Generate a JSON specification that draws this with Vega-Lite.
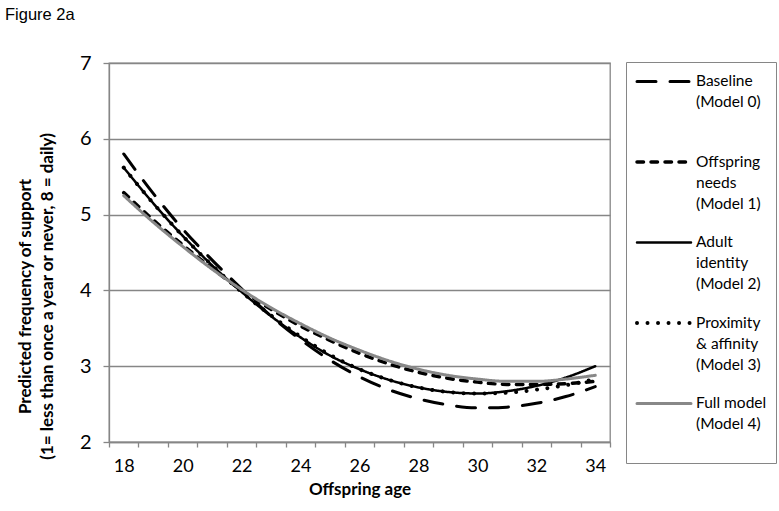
{
  "$schema": "https://vega.github.io/schema/vega-lite/v6.json",
  "width": 501,
  "height": 379,
  "autosize": {"type": "none"},
  "padding": {"left": 109, "top": 63, "right": 169, "bottom": 69},
  "title": {"text": "Figure 2a", "anchor": "start", "frame": "group", "font": "Liberation Sans", "fontSize": 16.5, "fontWeight": "normal", "color": "#000000", "dx": -104, "offset": 30},
  "data": {"values": [
    {"model": "M0", "age": 18, "v": 5.80}, {"model": "M0", "age": 19, "v": 5.28}, {"model": "M0", "age": 20, "v": 4.81}, {"model": "M0", "age": 21, "v": 4.40}, {"model": "M0", "age": 22, "v": 4.02}, {"model": "M0", "age": 23, "v": 3.66}, {"model": "M0", "age": 24, "v": 3.35}, {"model": "M0", "age": 25, "v": 3.08}, {"model": "M0", "age": 26, "v": 2.86}, {"model": "M0", "age": 27, "v": 2.69}, {"model": "M0", "age": 28, "v": 2.57}, {"model": "M0", "age": 29, "v": 2.49}, {"model": "M0", "age": 30, "v": 2.45}, {"model": "M0", "age": 31, "v": 2.46}, {"model": "M0", "age": 32, "v": 2.51}, {"model": "M0", "age": 33, "v": 2.60}, {"model": "M0", "age": 34, "v": 2.73},
    {"model": "M1", "age": 18, "v": 5.29}, {"model": "M1", "age": 19, "v": 4.93}, {"model": "M1", "age": 20, "v": 4.60}, {"model": "M1", "age": 21, "v": 4.29}, {"model": "M1", "age": 22, "v": 4.00}, {"model": "M1", "age": 23, "v": 3.75}, {"model": "M1", "age": 24, "v": 3.53}, {"model": "M1", "age": 25, "v": 3.34}, {"model": "M1", "age": 26, "v": 3.17}, {"model": "M1", "age": 27, "v": 3.03}, {"model": "M1", "age": 28, "v": 2.92}, {"model": "M1", "age": 29, "v": 2.84}, {"model": "M1", "age": 30, "v": 2.79}, {"model": "M1", "age": 31, "v": 2.76}, {"model": "M1", "age": 32, "v": 2.76}, {"model": "M1", "age": 33, "v": 2.77}, {"model": "M1", "age": 34, "v": 2.80},
    {"model": "M2", "age": 18, "v": 5.62}, {"model": "M2", "age": 19, "v": 5.15}, {"model": "M2", "age": 20, "v": 4.72}, {"model": "M2", "age": 21, "v": 4.33}, {"model": "M2", "age": 22, "v": 3.98}, {"model": "M2", "age": 23, "v": 3.66}, {"model": "M2", "age": 24, "v": 3.38}, {"model": "M2", "age": 25, "v": 3.14}, {"model": "M2", "age": 26, "v": 2.96}, {"model": "M2", "age": 27, "v": 2.82}, {"model": "M2", "age": 28, "v": 2.72}, {"model": "M2", "age": 29, "v": 2.66}, {"model": "M2", "age": 30, "v": 2.64}, {"model": "M2", "age": 31, "v": 2.67}, {"model": "M2", "age": 32, "v": 2.74}, {"model": "M2", "age": 33, "v": 2.85}, {"model": "M2", "age": 34, "v": 3.00},
    {"model": "M3", "age": 18, "v": 5.62}, {"model": "M3", "age": 19, "v": 5.15}, {"model": "M3", "age": 20, "v": 4.72}, {"model": "M3", "age": 21, "v": 4.33}, {"model": "M3", "age": 22, "v": 3.98}, {"model": "M3", "age": 23, "v": 3.67}, {"model": "M3", "age": 24, "v": 3.39}, {"model": "M3", "age": 25, "v": 3.15}, {"model": "M3", "age": 26, "v": 2.96}, {"model": "M3", "age": 27, "v": 2.82}, {"model": "M3", "age": 28, "v": 2.72}, {"model": "M3", "age": 29, "v": 2.66}, {"model": "M3", "age": 30, "v": 2.64}, {"model": "M3", "age": 31, "v": 2.65}, {"model": "M3", "age": 32, "v": 2.69}, {"model": "M3", "age": 33, "v": 2.75}, {"model": "M3", "age": 34, "v": 2.83},
    {"model": "M4", "age": 18, "v": 5.25}, {"model": "M4", "age": 19, "v": 4.90}, {"model": "M4", "age": 20, "v": 4.58}, {"model": "M4", "age": 21, "v": 4.28}, {"model": "M4", "age": 22, "v": 4.01}, {"model": "M4", "age": 23, "v": 3.77}, {"model": "M4", "age": 24, "v": 3.56}, {"model": "M4", "age": 25, "v": 3.37}, {"model": "M4", "age": 26, "v": 3.21}, {"model": "M4", "age": 27, "v": 3.07}, {"model": "M4", "age": 28, "v": 2.96}, {"model": "M4", "age": 29, "v": 2.88}, {"model": "M4", "age": 30, "v": 2.83}, {"model": "M4", "age": 31, "v": 2.80}, {"model": "M4", "age": 32, "v": 2.80}, {"model": "M4", "age": 33, "v": 2.83}, {"model": "M4", "age": 34, "v": 2.88}
  ]},
  "mark": {"type": "line", "interpolate": "monotone", "strokeCap": "round"},
  "encoding": {
    "x": {
      "field": "age", "type": "ordinal", "bandPosition": 0.5,
      "scale": {"type": "band", "paddingInner": 0, "paddingOuter": 0},
      "axis": {
        "title": "Offspring age", "titleFont": "Lato", "titleFontSize": 17, "titleFontWeight": "bold", "titleColor": "#000000", "titlePadding": 6,
        "labelExpr": "datum.value % 2 == 0 ? datum.label : ''", "labelOverlap": false, "labelAngle": 0,
        "labelFont": "Lato", "labelFontSize": 18, "labelColor": "#000000", "labelPadding": 10,
        "tickBand": "extent", "tickSize": 5, "tickColor": "#868686", "tickWidth": 1.3,
        "domainColor": "#868686", "domainWidth": 1.3, "grid": false
      }
    },
    "y": {
      "field": "v", "type": "quantitative",
      "scale": {"domain": [2, 7], "nice": false, "zero": false},
      "axis": {
        "title": ["Predicted frequency of support", "(1= less than once a year or never, 8 = daily)"],
        "titleFont": "Lato", "titleFontSize": 17, "titleFontWeight": "bold", "titleColor": "#000000", "titleLineHeight": 22.5,
        "titleX": -84, "titleY": 233, "titleBaseline": "middle", "titleAlign": "center", "titleAngle": -90,
        "values": [2, 3, 4, 5, 6, 7], "format": "d",
        "labelFont": "Lato", "labelFontSize": 20, "labelColor": "#000000", "labelPadding": 12,
        "tickSize": 6, "tickColor": "#868686", "tickWidth": 1.3,
        "grid": true, "gridColor": "#868686", "gridWidth": 1.3,
        "domainColor": "#868686", "domainWidth": 1.3
      }
    },
    "color": {
      "field": "model", "type": "nominal",
      "scale": {"domain": ["M0", "M1", "M2", "M3", "M4"], "range": ["#000000", "#000000", "#000000", "#000000", "#888888"]},
      "legend": {
        "orient": "none", "legendX": 517, "legendY": -1, "title": null,
        "strokeColor": "#868686", "fillColor": "#ffffff", "padding": 9,
        "symbolType": "stroke", "symbolSize": 2916, "clipHeight": 21,
        "labelExpr": "datum.value == 'M0' ? ['Baseline', '(Model 0)'] : datum.value == 'M1' ? ['Offspring', 'needs', '(Model 1)'] : datum.value == 'M2' ? ['Adult', 'identity', '(Model 2)'] : datum.value == 'M3' ? ['Proximity', '& affinity', '(Model 3)'] : ['Full model', '(Model 4)', ' ']",
        "labelFont": "Lato", "labelFontSize": 15.5, "labelColor": "#000000", "labelOffset": 3, "labelBaseline": "line-top", "labelLimit": 200,
        "rowPadding": 19.5, "gridAlign": "all", "columns": 1,
        "encoding": {"symbols": {"strokeCap": {"value": "round"}}, "labels": {"dy": {"value": -10.5}}}
      }
    },
    "strokeDash": {
      "field": "model", "type": "nominal",
      "scale": {"domain": ["M0", "M1", "M2", "M3", "M4"], "range": [[19, 14], [6.5, 7.5], [1, 0], [0.01, 10.5], [1, 0]]},
      "legend": {
        "orient": "none", "legendX": 517, "legendY": -1, "title": null,
        "strokeColor": "#868686", "fillColor": "#ffffff", "padding": 9,
        "symbolType": "stroke", "symbolSize": 2916, "clipHeight": 21,
        "labelExpr": "datum.value == 'M0' ? ['Baseline', '(Model 0)'] : datum.value == 'M1' ? ['Offspring', 'needs', '(Model 1)'] : datum.value == 'M2' ? ['Adult', 'identity', '(Model 2)'] : datum.value == 'M3' ? ['Proximity', '& affinity', '(Model 3)'] : ['Full model', '(Model 4)', ' ']",
        "labelFont": "Lato", "labelFontSize": 15.5, "labelColor": "#000000", "labelOffset": 3, "labelBaseline": "line-top", "labelLimit": 200,
        "rowPadding": 19.5, "gridAlign": "all", "columns": 1,
        "encoding": {"symbols": {"strokeCap": {"value": "round"}}, "labels": {"dy": {"value": -10.5}}}
      }
    },
    "strokeWidth": {
      "field": "model", "type": "nominal",
      "scale": {"type": "ordinal", "domain": ["M0", "M1", "M2", "M3", "M4"], "range": [3, 3.5, 2.5, 4, 3]},
      "legend": {
        "orient": "none", "legendX": 517, "legendY": -1, "title": null,
        "strokeColor": "#868686", "fillColor": "#ffffff", "padding": 9,
        "symbolType": "stroke", "symbolSize": 2916, "clipHeight": 21,
        "labelExpr": "datum.value == 'M0' ? ['Baseline', '(Model 0)'] : datum.value == 'M1' ? ['Offspring', 'needs', '(Model 1)'] : datum.value == 'M2' ? ['Adult', 'identity', '(Model 2)'] : datum.value == 'M3' ? ['Proximity', '& affinity', '(Model 3)'] : ['Full model', '(Model 4)', ' ']",
        "labelFont": "Lato", "labelFontSize": 15.5, "labelColor": "#000000", "labelOffset": 3, "labelBaseline": "line-top", "labelLimit": 200,
        "rowPadding": 19.5, "gridAlign": "all", "columns": 1,
        "encoding": {"symbols": {"strokeCap": {"value": "round"}}, "labels": {"dy": {"value": -10.5}}}
      }
    }
  },
  "config": {
    "view": {"stroke": "#868686", "strokeWidth": 1.3},
    "style": {"guide-label": {"lineHeight": 21}}
  }
}
